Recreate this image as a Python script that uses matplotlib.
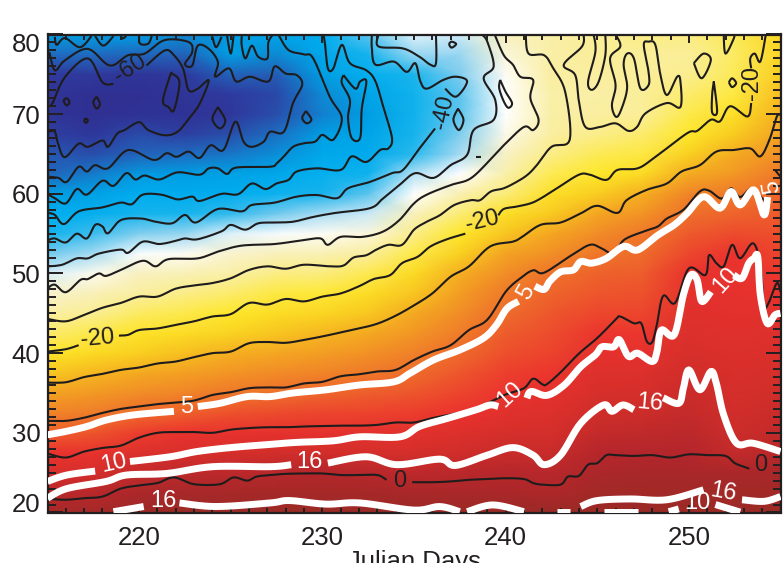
import numpy as np
import matplotlib
matplotlib.use('Agg')
import matplotlib.pyplot as plt
from matplotlib.colors import LinearSegmentedColormap, Normalize
from matplotlib.transforms import ScaledTranslation

nan = float('nan')

plt.rcParams['font.family'] = ['Liberation Sans', 'DejaVu Sans']

# background field, one column of temperature per day, lat 20 -> 80 every 2.5
lat_grid = [20, 22.5, 25, 27.5, 30, 32.5, 35, 37.5, 40, 42.5, 45, 47.5, 50, 52.5, 55, 57.5, 60, 62.5, 65, 67.5, 70, 72.5, 75, 77.5, 80]
day_grid = [215, 217.5, 220, 222.5, 225, 227.5, 230, 232.5, 235, 237.5, 240, 242.5, 245, 247.5, 250, 252.5, 255]
t_215 = [1.5, -0.7, -2.9, -5.1, -8.2, -11, -13.6, -16.5, -19.7, -23, -25.9, -29.2, -33.4, -37.4, -41.2, -44.9, -50.2, -55.5, -57, -59.5, -62, -62, -60, -55, -50]
t_217 = [1.5, -0.5, -2.6, -4.7, -7.4, -10.3, -12.8, -15.4, -18.3, -21.5, -24.7, -27.6, -30.8, -35.5, -39, -43.8, -49, -53.5, -58, -61, -64, -64, -60.5, -55, -50]
t_220 = [2.5, 0.7, -1.3, -3.4, -5.8, -9, -11.7, -14.3, -17, -19.6, -22.5, -25.5, -28.4, -31.9, -36.8, -41, -45.2, -50.6, -55.8, -58.4, -63, -64, -62, -55.5, -50]
t_222 = [3, 1.2, -0.8, -2.9, -5, -8.2, -11, -13.4, -15.9, -18.6, -21.4, -24.1, -27.4, -31, -36, -40.3, -45.9, -50, -55, -59.5, -63, -62, -60, -56, -52]
t_225 = [3, 1.2, -0.7, -2.7, -4.7, -7.2, -9.9, -12.4, -14.8, -17.5, -20, -22.9, -26, -29.3, -33.2, -39.2, -45.2, -48.9, -54, -58, -61, -60, -56, -50, -50]
t_227 = [3, 1.4, -0.4, -2.3, -4.4, -6.8, -9.3, -11.6, -14.1, -16.3, -18.6, -21, -24, -27.8, -32, -37.3, -42.5, -47.4, -51.5, -54.6, -58, -58.5, -56.5, -52, -48]
t_230 = [3, 1.4, -0.1, -2.2, -4.3, -6.4, -8.7, -11, -13.2, -15.4, -17.9, -20.5, -23.8, -27.3, -31, -35.3, -40.5, -44, -47.1, -50, -53, -52, -50, -47, -45]
t_232 = [3, 1.3, -0.5, -2.6, -4.2, -6.2, -8.1, -10, -12.1, -14.3, -16.5, -18.8, -21.7, -25.3, -30, -34, -38, -42, -45.8, -48, -50, -48, -44, -41, -38]
t_235 = [3, 0.9, -0.8, -2.5, -4.1, -5.8, -7.4, -9, -10.7, -12.5, -14.3, -16.3, -18.4, -21.3, -24.3, -28, -31.5, -34.9, -39.5, -41, -42, -42, -40, -36, -33]
t_237 = [3, 0.9, -0.6, -2, -3.5, -5, -6.3, -7.6, -8.9, -10.3, -11.8, -13.2, -14.7, -17.2, -20, -23.3, -27, -31.6, -35.5, -37, -38, -38, -37, -36, -34]
t_240 = [3, 0.8, -0.3, -1.5, -2.7, -3.9, -5.1, -6, -7, -8, -9, -10, -11.8, -13.8, -16.3, -19, -23.5, -26.5, -28.7, -30.5, -31.5, -31.5, -31, -29.8, -28]
t_242 = [3, 0.4, -0.5, -1.5, -2.4, -3.4, -4.3, -5.3, -6.2, -6.9, -7.6, -8.5, -9.5, -12, -14, -16.6, -19.2, -21.9, -24.2, -25.5, -26, -26, -25.5, -26, -26]
t_245 = [3, 1.8, 0.6, -0.3, -1.2, -2, -2.8, -3.6, -4.4, -5.3, -6.5, -7.6, -8.4, -9.7, -11.8, -14, -16.9, -20, -22, -24.3, -25.5, -26, -25.5, -25, -25]
t_247 = [3, 2, 1, -0.1, -1, -1.8, -2.6, -3.4, -4.4, -5.4, -6.3, -7.2, -8, -9, -9.9, -12.3, -14.7, -18.4, -21, -23, -25, -25, -25, -25, -24]
t_250 = [3, 2, 1, -0.1, -0.7, -1.2, -1.7, -2.2, -2.8, -3.3, -3.8, -4.3, -4.9, -6.5, -7.8, -9.3, -11, -14.5, -17.3, -20, -21.5, -23, -24.5, -25, -24]
t_252 = [3, 2, 0.8, -1.2, -1.8, -2.2, -2.6, -3, -3.4, -3.8, -4.2, -4.5, -4.8, -5, -6.8, -8.5, -10, -12.7, -14.5, -16.8, -19, -21, -22, -22.5, -22]
t_255 = [3, 2, 1, -0.5, -1.1, -1.6, -2, -2.6, -3.1, -3.6, -4, -4.8, -5.6, -6.3, -7, -7.8, -8.6, -10, -12.2, -13.6, -15, -16, -17, -18, -18]

# black contours, nan where the label breaks the line
day_0 = [215, 216, 217, 218, 219, 220, 221, 221.9, 223, 224.4, 225.15, 225.9, 226.4, 227.15, 228, 229, 230, 231, 232, 233, 233.5, nan, 234.9, 236, 237, 238, 239, 240, 241, 241.5, 242, 243, 243.4, 244, 244.5, 245, 245.5, 246, 247, 248, 249, 250, 251, 252, 252.5, 253, 253.3]
lat_0 = [21.7, 21.6, 21.8, 22, 23, 23.4, 23.7, 24.4, 23.55, 23.55, 24.4, 24, 24.5, 24.7, 24.85, 24.9, 24.9, 24.7, 24.7, 24.7, 24.1, nan, 23.8, 23.8, 23.9, 24.1, 24.2, 24.3, 24.2, 23.7, 23.5, 23.5, 24.5, 24.6, 26, 26.2, 27.2, 27.2, 27.1, 27.2, 26.9, 27.3, 27.2, 27.1, 26.2, 25.75, 25.5]
day_m5 = [215, 216, 217, 218, 219, 220, 221, 222, 223, 224, 225, 226, 227, 228, 229, 230, 231, 232, 233, 234, 235, 236, 237, 238, 239, 240, 241, 241.5, 242, 242.25, 243, 244, 245, 246, 246.25, 247, 247.4, 247.7, 248, 248.25, 248.6, 249.25, 250, 250.9, 251.1, 251.5, 251.9, 252.36, 252.8, 253.5, 253.9, 254.1, 254.35, 254.8, 255]
lat_m5 = [27.4, 26.9, 27.65, 28.1, 28.4, 29.4, 30, 30.1, 30.1, 30, 30.4, 30.6, 30.7, 30.7, 30.8, 30.85, 30.9, 30.9, 31, 31.3, 31.3, 31.85, 32.3, 32.75, 33.7, 34.8, 35.6, 36.8, 36.1, 36.1, 37.6, 39.95, 41.9, 44.2, 44.6, 43.75, 43.75, 41.5, 41.4, 43.55, 47.2, 46.3, 50.65, 49.8, 52.3, 51.3, 50.9, 53.6, 51.9, 53.8, 51.1, 46.05, 46.3, 48.8, 47.7]
day_m10 = [215, 216, 217, 218, 219, 220, 221, 222, 223, 224, 225, 226, 227, 228, 229, 230, 231, 232, 233, 234, 235, 236, 237, 238, 239, 240, 240.8, 241.5, 242.1, 243.6, 244.6, 245.2, 245.9, 246.45, 247.5, 248.3, 248.8, 249.7, 250.6, 251.1, 251.8, 252.3, 252.8, 253.45, 254.1, 254.3, nan, 254.7, 255]
lat_m10 = [31.5, 31.5, 31.9, 32.5, 33, 33.3, 33.6, 33.8, 34.05, 34.75, 35.1, 35.6, 35.7, 35.7, 36.2, 36.4, 37.1, 37.35, 37.7, 37.9, 39.15, 40.2, 41, 42.9, 44.2, 47.7, 49.4, 50.4, 50.1, 52.3, 53.6, 53.2, 52.5, 54.2, 55.25, 55.9, 56.9, 58, 60.3, 60.4, 59.4, 60.7, 59.6, 60.7, 59.2, 59.6, nan, 63, 62.15]
day_m15 = [215, 216, 217, 218, 219, 220, 221, 222, 223, 224, 225, 226, 227, 228, 229, 230, 231, 232, 233, 234, 235, 236, 237, 238, 239.16, 240.4, 240.9, 241.9, 243, 244.1, 245, 246.1, 246.6, 247.7, 248.8, 249.6, 250.6, 251.5, 252.45, 253.35, 253.9, 254.4, 254.8, 255]
lat_m15 = [36.3, 36.35, 37, 37.4, 37.9, 38.2, 38.7, 38.95, 39.5, 40, 40.2, 41.25, 41.4, 41.3, 41.66, 42.1, 42.6, 43.1, 43.7, 44.7, 46, 47.5, 49.6, 50.9, 53.4, 54, 54.6, 56.1, 56.4, 57.55, 58.5, 57.6, 59.2, 60.5, 61.3, 62.8, 63.6, 65.3, 65.5, 65.7, 64.7, 66.8, 69.7, 69.9]
day_m20 = [215, 216, 216.7, nan, 218.9, 219.4, 220, 221, 222, 223, 224, 225, 226, 227, 228, 229, 230, 231, 232, 232.8, 233.7, 234.35, 235.2, 235.9, 236.8, 237.8, nan, 239.6, 239.9, 240.6, 241.35, 241.9, 242.8, 244, 244.6, 245.5, 246.1, 247.2, 248.1, 249.9, 250.45, 251.2, 251.7, 252.25, 253.2, 253.4, nan, 253.4, 253.35, 253.6, 253.9, 254.2]
lat_m20 = [40.2, 40.5, 41, nan, 42.2, 42.3, 42.9, 43.1, 43.55, 44, 44.6, 44.9, 46.3, 46.1, 46.8, 46.5, 47.1, 47.5, 48.4, 49.3, 49.8, 51.3, 52.1, 53.4, 54.3, 55, nan, 57.3, 58.1, 58.4, 58.8, 59.4, 60.7, 62.4, 62.4, 61.75, 63, 63.2, 64.5, 67.6, 67.9, 69.3, 69.1, 71, 69.7, 71.4, nan, 75.75, 77, 77.6, 76.6, 80]
day_m25 = [215, 216, 217, 218, 219, 220, 221, 222, 223, 224, 225, 226, 227, 228, 229, 230.43, 231.15, 231.7, 232.4, 232.95, 233.6, 234.35, 235, 235.7, 236.4, 237.2, 238.1, 238.6, 239.2, 239.9, 240.6, 241.2, 241.7, 242.5, 243.5, 243.25, 242.6, 242.1, 241.25, 241.1]
lat_m25 = [44.3, 44, 44.8, 45.7, 46.3, 47.1, 47.1, 48.1, 48.5, 48.8, 49.4, 50.45, 50.9, 50.6, 51.1, 50.9, 51, 52, 52.3, 53, 53.6, 53.6, 55.5, 56.5, 57.3, 58.6, 59.2, 59.2, 60.3, 60.7, 61.5, 62.4, 63.6, 65.9, 66.8, 72.8, 75.75, 77.4, 77.6, 80]
day_m30 = [215, 215.4, 216, 216.8, 217.2, 217.8, 218.2, 219, 220.2, 220.9, 221.6, 223.2, 224.3, 225.6, 227.4, 229, 229.9, 230.3, 231, 232.2, 233.3, 234.2, 235, 235.7, 237, 238.1, 239.25, 239.9, 241, 241.5, 241.8, 241.35, 241.5, 240.8, 240.4, 239.9, 239.4]
lat_m30 = [48.15, 48.6, 47.65, 49.2, 49.3, 50, 49.7, 50.45, 51.6, 50.9, 51.8, 51.9, 52.75, 53.5, 53.7, 54.2, 54.4, 53.6, 54.6, 54.6, 55.25, 56.7, 58.8, 59.9, 61.1, 61.95, 64.5, 66.1, 68.4, 68, 69.3, 72, 74.3, 74.7, 76.2, 77.4, 80]
day_m35 = [215.05, 215.8, 216.6, 217.2, 217.8, 219, 219.4, 220.2, 221.1, 222, 222.5, 223.2, 224.5, 225, 225.8, 226.5, 227.4, 228.4, 229.5, 230.7, 232.6, 233.3, 234.2, 235.07, 236.07, 237, 237.9, 238.25, 239.35, 239.43, 238.8, 239.35, 239, 238.7]
lat_m35 = [50.9, 51.1, 51.9, 51.9, 52.5, 53, 52.6, 54, 53.7, 54.1, 54.4, 54.3, 55.3, 56.1, 55.5, 56.3, 56.4, 56.5, 57.1, 57.6, 58.2, 59.4, 61.1, 62.6, 62, 63.6, 64.9, 68, 69.3, 71.8, 74.5, 76, 79.1, 80]
day_m40 = [215.05, 215.4, 216, 216.6, 217.15, 217.6, 218, 218.3, 219, 220.1, 220.9, 221.8, 222.5, 223.1, 224.3, 225.6, 226.15, 227.4, 228.6, 229.7, 230.8, 231.4, 232.6, 233.8, 234.4, 235.3, 236.15, nan, 236.7, 237.3, 237.9, 237.3, 236.6, 235.7, 235.35, 235.07, 234.6, 233.9, 232.9, 232.7, 232.7]
lat_m40 = [54.2, 54.4, 53.9, 55, 54.4, 56.1, 55.9, 55.05, 56.7, 56.9, 56.5, 56.3, 57.35, 56.4, 58.1, 57.8, 58.6, 58.9, 59.65, 59.85, 59.45, 60.7, 61.5, 62.6, 63, 65.7, 68.2, nan, 73.2, 72.2, 74.1, 74.7, 74.3, 73.2, 74.1, 76.4, 75.3, 76.6, 76.2, 78.3, 80]
day_m45 = [215.05, 215.4, 215.9, 216.7, 218, 219, 219.6, 220.2, 221.2, 222.1, 222.9, 223.3, 224.5, 225.4, 226.15, 226.9, 227.5, 228.15, 228.6, 229.7, 231, 231.6, 232.4, 233.15, 233.6, 233.8, 233.35, 232.9, 232.4, 231.5, 231.06, 230.6, 230.3, 230.15, 230.06]
lat_m45 = [57.6, 57.35, 56.2, 57.8, 58.3, 58.9, 58.7, 59.9, 59.9, 59.3, 59.65, 59.1, 60, 59.95, 61.3, 60.6, 61.3, 61.75, 62.8, 63.2, 63, 64.7, 64, 65.5, 65.7, 67, 70.7, 74.1, 75.5, 76.4, 78.7, 75.75, 75.75, 78.7, 80]
day_m50 = [215.05, 215.4, 216, 216.6, 217.15, 218, 218.6, 219.3, 219.8, 220.3, 221.1, 222.1, 223.3, 223.8, 224.3, 224.8, 225.3, 227.15, 227.5, 227.9, 228.4, 229, 229.6, 230, 230.6, 231.06, 230.4, 229.5, 229, 228.15, 227.6]
lat_m50 = [59.9, 59.45, 58.8, 60.6, 59.9, 61.65, 61, 62.6, 61.8, 62.3, 61.8, 62.7, 62.4, 63.2, 63.2, 62.5, 63.3, 63.4, 63.8, 64.7, 65.9, 66.35, 66.55, 67.4, 66.8, 69.5, 72.2, 77, 77.5, 78.05, 80]
day_m55 = [215.1, 215.6, 216.05, 216.7, 217.15, 217.6, 218.3, 219.4, 220.8, 221.5, 222.05, 222.7, 223.3, 223.9, 224.6, 225.25, 225.7, 226.15, 226.8, 227.15, 227.9, 228.4, 228.9, 228.6, 228, 227.4, 227.05, 226.05, 225.3, 224.9, 224.15, 224.3, 223.8, 223.2, 222.9, 222.5, 222.9, 222.7, 221.4, 220.3, 219.4, 218.4, 217.2, 215.95, 215.4, 215.1]
lat_m55 = [62.15, 62, 61.5, 63.4, 62.8, 63.6, 63.2, 65.5, 64.25, 65.1, 64.65, 65.3, 64.5, 66.1, 65.5, 69.06, 66.55, 65.9, 66.55, 67.8, 67.8, 71.4, 73.7, 74.9, 75.1, 76, 74.1, 74.7, 74.1, 75.75, 74.7, 76.55, 78.2, 78.6, 76.1, 76.3, 77.8, 79.05, 79.3, 77.6, 77.4, 76.1, 78.2, 76.75, 75.5, 77.8]
day_m60 = [215.1, 215.3, 215.95, 217.2, 218, 218.6, nan, 220.4, 221.4, 221.9, 222.4, 222.7, 223.2, 223.8, 223.3, 222.7, 222.1, 221.4, 220.5, 220, 219.2, 218.8, 218.3, 218, 217.2, 216.7, 215.95, 215.6, 215.4, 215.05]
lat_m60 = [71, 71.5, 74.65, 77, 74, 73.8, nan, 76.1, 78, 77.4, 75.7, 73, 73.2, 74.25, 71.3, 69.4, 67.8, 67.35, 68, 69, 68, 67.55, 65.9, 66.7, 65.9, 66.3, 64.6, 66.1, 67.8, 67.8]

# closed rings and the loops hanging from the top edge
ring_days = [
    [215.86, 216.04, 216.2, 216.04, 215.86],
    [217.68, 217.86, 217.68, 217.5, 217.68],
    [217.1, 217.2, 217.1, 217, 217.1],
    [221.8, 222.2, 221.9, 221.6, 221.3, 221.7, 221.8],
    [224.3, 224.7, 224.4, 224, 224.3],
    [229.1, 229.4, 229.15, 228.9, 229.1],
    [231.15, 231.8, 232.06, 232.4, 232.15, 232.06, 231.6, 231.4, 231.5, 231.06, 231.15],
    [236.9, 237.05, 237.3, 237.05, 236.9],
    [237.4, 237.7, 237.45, 237.15, 237.4],
    [239.7, 240, 240.35, 240.15, 239.9, 239.65, 239.7],
    [233.06, 233.06, 234.4, 235.3, 235.9, 236.2, 236.2],
    [238.4, 238.65],
    [244.26, 244.17, 243.17, 243.8, 244, 244.35, 245.17, 246, 246.7, 247.17, 247.63, 248.8, 249.54, 249.54, 249.36, 248.8, 248.45, 248.17, 247.8, 247.54, 247.8, 247.8, 247.35, 247, 246.63, 246.44, 246.63, 246.26, 246, 245.8, 246, 245.7, 246.26, 246],
    [244.8, 244.9, 244.5, 244.7, 245.08, 245.44, 245.44],
    [250.27, 250.8, 251.2, 250.7, 250.27],
    [252.18, 252.36, 252.58, 252.36, 252.18],
    [251.36, 251.54, 251.27, 251.27, 251.36],
    [251.9, 252, 252.45, 252.45],
    [215.4, 215.5, 215.95, 216.77, 217.4],
    [217.6, 218.05, 218.6],
    [219, 219.1, 219.3],
    [220, 220.05, 220.5, 220.7],
    [224, 224.2, 224.5],
    [224.8, 225, 225.15],
    [225.6, 225.6, 225.8, 226.15, 226.5, 227, 227.05, 227.3],
]
ring_lats = [
    [71.7, 72, 71.5, 71.1, 71.7],
    [72.2, 71.3, 70.7, 71.5, 72.2],
    [69.5, 69.2, 68.9, 69.2, 69.5],
    [75.1, 74, 70.5, 70.9, 71.7, 74.9, 75.1],
    [70.9, 69.2, 68.2, 69.4, 70.9],
    [70.4, 69.35, 68.85, 69.5, 70.4],
    [74.9, 73.2, 74.1, 74.1, 70.7, 67, 67, 69.5, 71.8, 73.9, 74.9],
    [78.8, 79.1, 78.8, 78.35, 78.8],
    [70.7, 69.3, 68, 69.3, 70.7],
    [74.3, 72.8, 71.4, 70.8, 71.6, 73.25, 74.3],
    [80, 78.5, 78.25, 77.2, 76.2, 76.4, 80],
    [64.67, 64.67],
    [80, 78.5, 76.2, 74.9, 71.6, 68.4, 68.4, 68.85, 67.9, 68.4, 70.1, 71.4, 70.9, 74.1, 74.7, 72.4, 74.9, 78.7, 79.1, 78.7, 75.3, 73.65, 73.25, 77, 77.6, 76.2, 73.25, 70.3, 69.7, 71.15, 73.65, 77, 78.5, 80],
    [80, 77.85, 74.1, 73.05, 74.1, 77.4, 80],
    [76.4, 77.6, 76.8, 74.5, 76.4],
    [74, 74.5, 73.9, 73.4, 74],
    [74.1, 70.3, 70.2, 72.4, 74.1],
    [80, 77.6, 79.5, 80],
    [79.7, 78.7, 79.55, 78.4, 79.8],
    [79.8, 78.6, 79.8],
    [79.8, 79.5, 79.8],
    [79.9, 78.85, 78.85, 79.9],
    [79.7, 78.4, 79.7],
    [79.8, 77.6, 79.8],
    [79.8, 78.6, 77, 78.6, 77.2, 77, 79, 80],
]

# white contours
day_w5 = [215, 216.05, 217.15, 218.2, 219.7, 221.9, nan, 223.2, 224.4, 225.9, 227.15, 228.4, 230.2, 232, 233.9, 234.8, 236.07, 237.5, 238.8, 239.5, 240.07, 240.7, nan, 241.6, 242.1, 242.4, 243, 243.7, 244.1, 244.7, 245.5, 246.45, 247.2, 248.3, 249.2, 249.9, 250.8, 251.7, 252.3, 252.8, 253.55, 254.1, 254.3]
lat_w5 = [29.75, 30.2, 30.8, 31.6, 32.25, 32.7, nan, 33.3, 33.7, 34.55, 34.55, 35, 35.4, 36, 36.4, 37.5, 39.15, 40.4, 41.9, 43.55, 45.6, 46.5, nan, 48.4, 48, 49, 50.2, 50.45, 51.5, 51.3, 51.9, 53.4, 52.95, 54.8, 56.1, 57.55, 59.65, 58.2, 60.3, 58.6, 60.5, 57.35, 59.6]
day_w10 = [215, 216.05, 217.6, nan, 219.5, 221.7, 223.15, 225, 227.15, 228.6, 230.6, 232.05, 234.25, 235.3, 236.8, 238.4, 239.15, 239.6, nan, 241.16, 241.4, 242.25, 243.2, 244.1, 244.9, 245.26, 245.9, 246.2, 246.7, 247.2, 248, 248.26, 248.5, 249.2, 249.7, 250.1, 250.45, 250.7, 251.2, nan, 252.45, 252.9, 253.27, 253.55, 253.76, 253.9, 254.27, 254.7, 255]
lat_w10 = [23.9, 24.7, 25.2, nan, 26.4, 27, 27.65, 28.15, 28.55, 28.8, 29, 29.5, 29.5, 30.8, 31.8, 32.9, 33.5, 33.3, nan, 34.35, 35.2, 34.7, 36, 38.3, 39.8, 40.8, 40.8, 41.7, 39.6, 40, 38.95, 40.2, 42.9, 42.3, 47.3, 49.8, 49.2, 46.5, 47.7, nan, 49.8, 49.4, 51.3, 51.9, 52.1, 47.3, 43.75, 44.8, 45]
day_w16 = [215, 216.05, 218.2, 219.3, 221.5, 224, 227.15, 228.3, nan, 230.3, 232.4, 234.06, 236.4, 237.25, 239, 240.4, 241.5, 242.1, 243, 244.1, 245.35, 245.8, 246.4, 247, nan, 248.6, 249.45, 249.7, 250, 250.6, 251.2, 251.5, 251.9, 252.6, 253.5, 255]
lat_w16 = [21.8, 23, 23.9, 24.7, 24.9, 25.75, 25.75, 26, nan, 26.2, 27, 26, 26.7, 25.9, 27.2, 28.15, 27.2, 26, 27.2, 31.2, 33.5, 32.7, 33.5, 32.9, nan, 34.4, 33.7, 35.6, 37.9, 35.4, 37.7, 36.2, 32.25, 28.7, 28.7, 27.65]
day_w16_low = [218.6, 220.25, nan, 222.2, 224.2, 227.15, 228.2, 230.2, 232.05, 235, 236.4, 237.5, nan, 237.9, 239.3, 241, nan, 242.8, 243.5, nan, 244.1, 245, 246.8, 248.8, 250.8, nan, 252.9, 254.1, 255]
lat_w16_low = [20.1, 20.75, nan, 21.2, 20.75, 21.2, 21.5, 21.05, 21.2, 20.3, 20.75, 20.1, nan, 20.1, 20.95, 20.1, nan, 20.1, 20.1, nan, 20.75, 21.5, 21.7, 21.6, 22.85, nan, 21.6, 21.4, 22]
day_w10_low = [245.35, 247.25, nan, 248.9, 249.45, nan, 251.45, 252.8]
lat_w10_low = [20.1, 20.1, nan, 20.1, 20.45, nan, 21, 20.05]

# text, day, lat, rotation, colour
contour_labels = [
    ('-60', 219.5, 75.7, 33, '#231f20'),
    ('-40', 236.6, 70.3, 78, '#231f20'),
    ('-20', 217.7, 41.8, 5, '#231f20'),
    ('-20', 238.7, 56.5, 13, '#231f20'),
    ('-20', 253.45, 73.9, 90, '#231f20'),
    ('0', 234.2, 24, 0, '#231f20'),
    ('0', 253.9, 25.9, 0, '#231f20'),
    ('5', 222.6, 33.2, 0, 'white'),
    ('5', 241.1, 47.7, 60, 'white'),
    ('5', 254.55, 60.9, 100, 'white'),
    ('10', 218.6, 26.2, 12, 'white'),
    ('10', 240.25, 34.8, 42, 'white'),
    ('10', 252, 49.2, 48, 'white'),
    ('10', 250.45, 21.2, 0, 'white'),
    ('16', 229.3, 26.3, 0, 'white'),
    ('16', 221.3, 21.5, 0, 'white'),
    ('16', 247.9, 33.7, -5, 'white'),
    ('16', 251.9, 22.55, -10, 'white'),
]

temp_stops = [-66, -60, -55, -50, -45, -40, -37, -33.5, -31.5, -29, -25, -20, -17, -15, -10, -5, -2, 0, 3]
temp_colors = ['#2f2b8c', '#2f3a9e', '#1f6cc0', '#009fe3', '#00aeef', '#1ab4ec', '#7fcdee', '#d8eef8', '#ffffff',
               '#f8f1c8', '#faee9a', '#fee72a', '#f9cf20', '#f5b120', '#ef7a2a', '#eb322e', '#d02e2a', '#b2262b', '#9a2a25']

norm = Normalize(temp_stops[0], temp_stops[-1])
cmap = LinearSegmentedColormap.from_list('temp', [(norm(s), c) for s, c in zip(temp_stops, temp_colors)], N=512)

temp = np.column_stack([t_215, t_217, t_220, t_222, t_225, t_227, t_230, t_232, t_235,
                        t_237, t_240, t_242, t_245, t_247, t_250, t_252, t_255])


def draw_smooth(ax, days, lats, **kw):
    # rounds the corners when drawing, the curve still passes through every read point
    days = np.array(days, dtype=float)
    lats = np.array(lats, dtype=float)
    breaks = np.where(np.isnan(days))[0]
    for xs, ys in zip(np.split(days, breaks), np.split(lats, breaks)):
        xs, ys = xs[~np.isnan(xs)], ys[~np.isnan(ys)]
        if len(xs) < 3:
            ax.plot(xs, ys, **kw)
            continue
        px = np.r_[xs[0], xs, xs[-1]]
        py = np.r_[ys[0], ys, ys[-1]]
        u = np.linspace(0, 1, 8, endpoint=False)[:, None]
        def spline(p):
            a, b, c, d = p[:-3], p[1:-2], p[2:-1], p[3:]
            v = 0.5 * (2 * b + (c - a) * u + (2 * a - 5 * b + 4 * c - d) * u ** 2 + (3 * b - a - 3 * c + d) * u ** 3)
            return np.r_[v.T.ravel(), p[-2]]
        ax.plot(spline(px), spline(py), **kw)


fig = plt.figure(figsize=(7.83, 5.63), dpi=100)
ax = fig.add_axes([47.5 / 783, 1 - 512.5 / 563, 733 / 783, 478 / 563])
ax.pcolormesh(day_grid, lat_grid, temp, cmap=cmap, norm=norm, shading='gouraud', zorder=0, rasterized=True)

black_lines = [(day_0, lat_0), (day_m5, lat_m5), (day_m10, lat_m10), (day_m15, lat_m15), (day_m20, lat_m20),
               (day_m25, lat_m25), (day_m30, lat_m30), (day_m35, lat_m35), (day_m40, lat_m40), (day_m45, lat_m45),
               (day_m50, lat_m50), (day_m55, lat_m55), (day_m60, lat_m60)] + list(zip(ring_days, ring_lats))
for d, l in black_lines:
    draw_smooth(ax, d, l, color='#1f1c1d', lw=1.5, solid_joinstyle='round', solid_capstyle='butt', zorder=2)

white_lines = [(day_w5, lat_w5), (day_w10, lat_w10), (day_w16, lat_w16), (day_w16_low, lat_w16_low), (day_w10_low, lat_w10_low)]
for d, l in white_lines:
    draw_smooth(ax, d, l, color='white', lw=5.0, solid_joinstyle='round', solid_capstyle='butt', zorder=3)

for txt, d, l, rot, col in contour_labels:
    ax.text(d, l, txt, color=col, fontsize=17, rotation=rot, ha='center', va='center',
            rotation_mode='anchor', zorder=4)

ax.set_xlim(215, 255)
ax.set_ylim(20, 80)
ax.set_xticks([220, 230, 240, 250])
ax.set_xticks(np.arange(215, 256), minor=True)
ax.set_yticks([20, 30, 40, 50, 60, 70, 80])
ax.set_yticks(np.arange(20, 81), minor=True)
ax.tick_params(which='both', direction='in', top=True, right=True, color='#231f20', width=1.4, labelcolor='#231f20')
ax.tick_params(axis='x', which='major', length=6, pad=10, labelsize=18.5)
ax.tick_params(axis='x', which='minor', length=3.5)
ax.tick_params(axis='y', which='major', length=11, pad=5, labelsize=18.5)
ax.tick_params(axis='y', which='minor', length=5.5)
ylabels = ax.get_yticklabels()
ylabels[0].set_transform(ylabels[0].get_transform() + ScaledTranslation(0, 9.5 / 100, fig.dpi_scale_trans))
ylabels[-1].set_transform(ylabels[-1].get_transform() + ScaledTranslation(0, -7.5 / 100, fig.dpi_scale_trans))
for side in ax.spines.values():
    side.set_linewidth(1.6)
    side.set_color('#231f20')
ax.set_axisbelow(False)
ax.set_xlabel('Julian Days', fontsize=18.5, color='#231f20', labelpad=0)

fig.savefig('out.png', dpi=100)
